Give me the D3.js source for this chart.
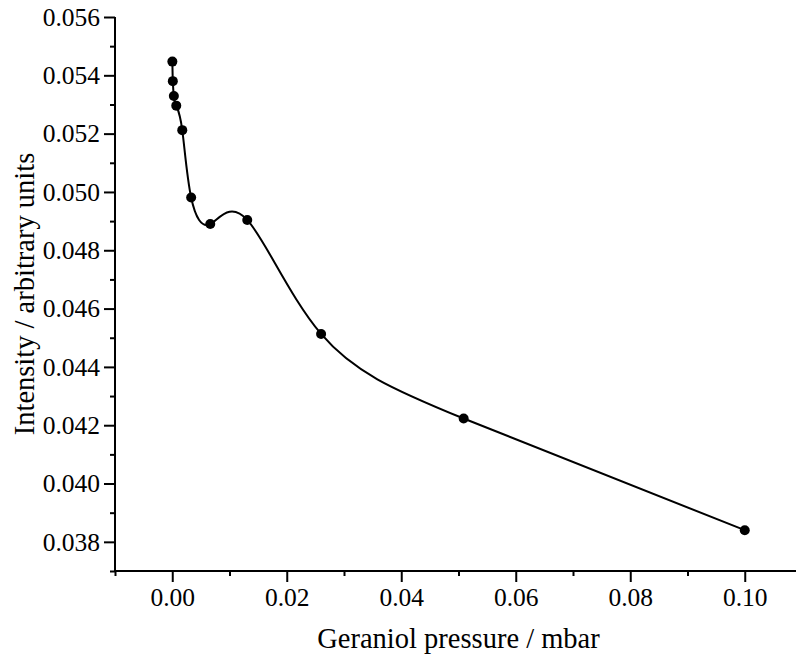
<!DOCTYPE html>
<html>
<head>
<meta charset="utf-8">
<script src="https://cdn.jsdelivr.net/npm/d3@7"></script>
<style>
  body { margin: 0; background: #fff; }
</style>
</head>
<body>
<script>
// geraniol pressure (mbar) and measured intensity
let pressure = [0.00002, 0.0001, 0.00028, 0.0007, 0.00175, 0.0033, 0.00664, 0.0131, 0.0260, 0.0509, 0.1000];
let intensity = [0.05447, 0.05380, 0.05329, 0.05296, 0.05212, 0.04981, 0.04890, 0.04904, 0.04513, 0.04223, 0.03840];

let xTicks = [0.00, 0.02, 0.04, 0.06, 0.08, 0.10];
let yTicks = [0.038, 0.040, 0.042, 0.044, 0.046, 0.048, 0.050, 0.052, 0.054, 0.056];

let serif = "Liberation Serif";

let w = 796;
let h = 664;

let xScale = d3.scaleLinear()
              .domain([-0.01, 0.11])
              .range([115, 802]);

let yScale = d3.scaleLinear()
              .domain([0.037, 0.056])
              .range([571, 17]);

let svg = d3.select("body")
            .append("svg")
            .attr("width", w)
            .attr("height", h)
            .attr("font-family", serif);

// minor ticks first, majors on top
let xMinor = d3.axisBottom(xScale)
              .tickValues(d3.range(-0.01, 0.111, 0.02))
              .tickSize(5)
              .tickFormat("");

let yMinor = d3.axisLeft(yScale)
              .tickValues(d3.range(0.037, 0.0561, 0.002))
              .tickSize(5)
              .tickFormat("");

let xAxis = d3.axisBottom(xScale)
              .tickValues(xTicks)
              .tickSize(11)
              .tickPadding(6)
              .tickFormat(d3.format(".2f"));

let yAxis = d3.axisLeft(yScale)
              .tickValues(yTicks)
              .tickSize(11)
              .tickPadding(4)
              .tickFormat(d3.format(".3f"));

function styleAxis(g) {
  g.select(".domain").remove();
  g.selectAll(".tick line").attr("stroke-width", 2);
  g.selectAll(".tick text")
   .attr("fill", "#000")
   .attr("font-family", serif)
   .attr("font-size", 25.5);
}

svg.append("g")
   .attr("transform", "translate(0," + yScale(0.037) + ")")
   .call(xMinor)
   .call(styleAxis);

svg.append("g")
   .attr("transform", "translate(" + xScale(-0.01) + ",0)")
   .call(yMinor)
   .call(styleAxis);

svg.append("g")
   .attr("id", "x-axis")
   .attr("transform", "translate(0," + yScale(0.037) + ")")
   .call(xAxis)
   .call(styleAxis);

svg.append("g")
   .attr("id", "y-axis")
   .attr("transform", "translate(" + xScale(-0.01) + ",0)")
   .call(yAxis)
   .call(styleAxis);

// plain axis lines
svg.append("line")
   .attr("x1", xScale(-0.01)).attr("x2", xScale(0.11))
   .attr("y1", yScale(0.037)).attr("y2", yScale(0.037))
   .attr("stroke", "black").attr("stroke-width", 2);

svg.append("line")
   .attr("x1", xScale(-0.01)).attr("x2", xScale(-0.01))
   .attr("y1", yScale(0.037) + 1).attr("y2", yScale(0.056))
   .attr("stroke", "black").attr("stroke-width", 2);

let pts = pressure.map((p, i) => [p, intensity[i]]);

let line = d3.line()
             .x(d => xScale(d[0]))
             .y(d => yScale(d[1]))
             .curve(d3.curveNatural);

svg.append("path")
   .datum(pts)
   .attr("d", line)
   .attr("fill", "none")
   .attr("stroke", "black")
   .attr("stroke-width", 2);

svg.append("g")
   .selectAll("circle")
   .data(pts)
   .enter()
   .append("circle")
   .attr("cx", d => xScale(d[0]))
   .attr("cy", d => yScale(d[1]))
   .attr("r", 5)
   .attr("fill", "black");

svg.append("text")
   .attr("x", (xScale(-0.01) + xScale(0.11)) / 2)
   .attr("y", 648)
   .attr("text-anchor", "middle")
   .attr("font-family", serif)
   .attr("font-size", 28.5)
   .text("Geraniol pressure / mbar");

svg.append("text")
   .attr("transform", "translate(34," + (yScale(0.037) + yScale(0.056)) / 2 + ") rotate(-90)")
   .attr("text-anchor", "middle")
   .attr("font-family", serif)
   .attr("font-size", 28.5)
   .text("Intensity / arbitrary units");
</script>
</body>
</html>
